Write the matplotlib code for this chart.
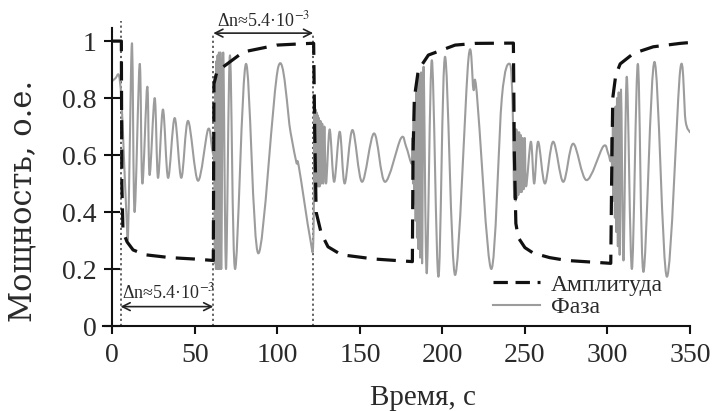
import matplotlib
matplotlib.use("Agg")
import matplotlib.pyplot as plt
from matplotlib.path import Path
from matplotlib.patches import PathPatch
from matplotlib.lines import Line2D

plt.rcParams['font.family'] = ['Liberation Serif', 'DejaVu Serif']
plt.rcParams['mathtext.fontset'] = 'stix'

# ---- data ----
amp_t = [0, 5.5, 5.8, 6.5, 9, 12.6, 20, 35, 50, 61.2,
         61.6, 63.5, 67.3, 79.4, 99.6, 119.8, 122.0,
         122.6, 123.5, 126.6, 130.7, 138.8, 159, 181.8,
         182.2, 183.0, 185.4, 191.5, 207.7, 220, 243.0,
         243.6, 244.5, 246, 250, 255, 265, 275.4, 302.0,
         302.5, 303.2, 305, 307.7, 315.8, 327.7, 344, 350]
amp_v = [1.0, 1.0, 0.5, 0.33, 0.295, 0.267, 0.25, 0.24, 0.235, 0.23,
         0.85, 0.895, 0.91, 0.962, 0.986, 0.992, 0.992,
         0.7, 0.4, 0.325, 0.278, 0.25, 0.235, 0.226,
         0.6, 0.8, 0.898, 0.951, 0.986, 0.992, 0.993,
         0.6, 0.36, 0.31, 0.275, 0.256, 0.24, 0.23, 0.22,
         0.5, 0.8, 0.88, 0.92, 0.957, 0.98, 0.992, 0.995]

phase_t = [0, 2, 4, 5.5, 7, 8.5, 9.5, 10.5, 12.0, 13.5, 16.6, 18.2, 21.2, 22.6,
           25.7, 27.7, 30.7, 33.8, 37.8, 41.8, 45.9, 51.9, 58.0, 60.5,
           61.8, 62.2, 62.5, 62.8, 63.1, 63.4, 63.8, 64.2, 64.6, 65.0, 65.5, 66.0,
           67.2, 68.9, 71.3, 74.4, 81.0, 88.5, 100.6,
           108.0, 111.5, 113.0, 119.8, 121.8,
           122.5, 122.8, 123.1, 123.4, 123.7, 124.0, 124.4, 124.8, 125.2, 125.6,
           126.1, 126.6, 127.2, 127.8, 128.5, 129.5, 131.7, 134.4, 137.8, 140.8,
           145.5, 151.3, 158.6, 165.2, 174.8, 178.0, 181.5,
           181.9, 182.2, 182.6, 183.0, 183.4, 183.8, 184.2, 184.6, 185.0, 185.5,
           186.0, 186.5, 187.1, 187.7, 188.6, 190.5, 193.6, 197.6, 201.6, 207.7,
           215.8, 218.8, 220.8, 229.6, 236.0, 240.8, 242.5,
           243.5, 244.0, 244.4, 244.8, 245.2, 245.6, 246.0, 246.5, 247.0, 247.5,
           248.0, 248.6, 249.2, 249.9, 250.7, 253.6, 255.6, 258.0, 262.1, 267.1,
           273.2, 279.2, 287.3, 297.4, 300.4, 302.0,
           302.5, 302.9, 303.3, 303.7, 304.1, 304.5, 304.9, 305.3, 305.8, 306.3,
           306.8, 307.4, 308.2, 309.7, 311.7, 314.8, 318.4, 321.8, 328.5, 336.0,
           344.1, 347.3, 350]
phase_v = [0.86, 0.87, 0.88, 0.80, 0.60, 0.40, 0.31, 0.60, 0.99, 0.40, 0.92, 0.50, 0.84, 0.53,
           0.80, 0.52, 0.76, 0.52, 0.73, 0.52, 0.72, 0.51, 0.69, 0.62,
           0.55, 0.22, 0.88, 0.20, 0.93, 0.20, 0.95, 0.20, 0.96, 0.20, 0.96, 0.20,
           0.96, 0.20, 0.95, 0.20, 0.92, 0.255, 0.91,
           0.68, 0.575, 0.56, 0.31, 0.30,
           0.76, 0.48, 0.76, 0.48, 0.75, 0.49, 0.74, 0.49, 0.73, 0.49,
           0.72, 0.50, 0.71, 0.50, 0.70, 0.50, 0.69, 0.506, 0.682, 0.50,
           0.688, 0.506, 0.676, 0.506, 0.658, 0.63, 0.57,
           0.66, 0.50, 0.72, 0.43, 0.78, 0.37, 0.82, 0.31, 0.86, 0.27,
           0.88, 0.24, 0.89, 0.22, 0.91, 0.185, 0.933, 0.173, 0.945, 0.179,
           0.939, 0.83, 0.82, 0.20, 0.80, 0.92, 0.78,
           0.45, 0.69, 0.44, 0.69, 0.45, 0.68, 0.46, 0.68, 0.47, 0.67,
           0.47, 0.66, 0.48, 0.66, 0.49, 0.647, 0.50, 0.647, 0.50, 0.647,
           0.506, 0.64, 0.512, 0.63, 0.606, 0.58,
           0.66, 0.50, 0.70, 0.44, 0.74, 0.38, 0.77, 0.33, 0.80, 0.28,
           0.82, 0.25, 0.83, 0.23, 0.875, 0.20, 0.92, 0.19, 0.927, 0.173,
           0.90, 0.72, 0.68]

marker_t = [5, 61.2, 121.7]
marker_top = [1.07, 1.028, 1.028]
delta_label = r'Δn≈5.4·10$^{-3}$'
x_ticks = [0, 50, 100, 150, 200, 250, 300, 350]
y_ticks = [0, 0.2, 0.4, 0.6, 0.8, 1]
y_ticklabels = ['0', '0.2', '0.4', '0.6', '0.8', '1']


def smooth_path(xs, ys):
    """Excel-style smoothed line: cubic Bezier segments through the points."""
    pts = list(zip(xs, ys))
    verts = [pts[0]]
    codes = [Path.MOVETO]
    n = len(pts)
    for i in range(n - 1):
        p0 = pts[i - 1] if i > 0 else pts[i]
        p1 = pts[i]
        p2 = pts[i + 1]
        p3 = pts[i + 2] if i + 2 < n else pts[i + 1]
        c1 = (p1[0] + (p2[0] - p0[0]) / 6, p1[1] + (p2[1] - p0[1]) / 6)
        c2 = (p2[0] - (p3[0] - p1[0]) / 6, p2[1] - (p3[1] - p1[1]) / 6)
        verts += [c1, c2, p2]
        codes += [Path.CURVE4] * 3
    return Path(verts, codes)


W, H = 716, 411
fig = plt.figure(figsize=(W / 100, H / 100), dpi=100)
ax = fig.add_axes([103.2 / W, (H - 326) / H, 586.8 / W, 298 / H])

txt = '#2a2a2a'
phase_color = '#9c9c9c'
amp_color = '#111111'

ax.add_patch(PathPatch(smooth_path(phase_t, phase_v), fill=False, edgecolor=phase_color,
                       lw=1.5, joinstyle='round', capstyle='round', zorder=2))
ax.plot(amp_t, amp_v, color=amp_color, lw=2.3, dashes=(6, 3.2), zorder=3)

for t, top in zip(marker_t, marker_top):
    ax.plot([t, t], [0, top], color='#555555', lw=1.3, ls=(0, (1.2, 1.6)), clip_on=False, zorder=1)

# arrows
ax.annotate('', xy=(marker_t[1], 1.028), xytext=(marker_t[2], 1.028),
            arrowprops=dict(arrowstyle='<->', lw=1.2, color='#222222', shrinkA=0, shrinkB=0,
                            mutation_scale=14), annotation_clip=False)
ax.text((marker_t[1] + marker_t[2]) / 2, 1.074, delta_label, ha='center', va='center',
        fontsize=13, color=txt, clip_on=False)
ax.annotate('', xy=(marker_t[0], 0.068), xytext=(marker_t[1], 0.068),
            arrowprops=dict(arrowstyle='<->', lw=1.2, color='#222222', shrinkA=0, shrinkB=0,
                            mutation_scale=14), annotation_clip=False)
ax.text(34.4, 0.118, delta_label, ha='center', va='center', fontsize=13, color=txt)

ax.set_xlim(-5.5, 350)
ax.set_ylim(0, 1.046)
ax.spines['left'].set_position(('data', 0))
ax.spines['top'].set_visible(False)
ax.spines['right'].set_visible(False)
for s in ('left', 'bottom'):
    ax.spines[s].set_linewidth(1.5)
    ax.spines[s].set_color('#111111')

ax.set_xticks(x_ticks)
ax.set_yticks(y_ticks)
ax.set_yticklabels(y_ticklabels)
ax.tick_params(axis='x', direction='out', length=6, width=1.5, labelsize=20, pad=6, colors='#111111', labelcolor=txt)
ax.tick_params(axis='y', direction='inout', length=11, width=1.5, labelsize=20, pad=6, colors='#111111', labelcolor=txt)

ax.set_xlabel('Время, с', fontsize=21, color=txt)
ax.xaxis.set_label_coords((423 - 103.2) / 586.8, (326 - 385) / 298)
ax.set_ylabel('Мощность, о.е.', fontsize=22, color=txt, family=['DejaVu Serif'])
ax.yaxis.set_label_coords((38 - 103.2) / 586.8, (326 - 201) / 298)

handles = [Line2D([], [], color=amp_color, lw=2.3, dashes=(4.5, 2.4)),
           Line2D([], [], color=phase_color, lw=1.5)]
leg = ax.legend(handles, ['Амплитуда', 'Фаза'], loc='upper left', bbox_to_anchor=(493 / W, 1 - 274 / H),
                bbox_transform=fig.transFigure, frameon=False, fontsize=17, handlelength=2.0,
                handletextpad=0.45, labelspacing=0.05, borderpad=0, borderaxespad=0)
for t in leg.get_texts():
    t.set_color(txt)

fig.savefig('out.png', dpi=100)
